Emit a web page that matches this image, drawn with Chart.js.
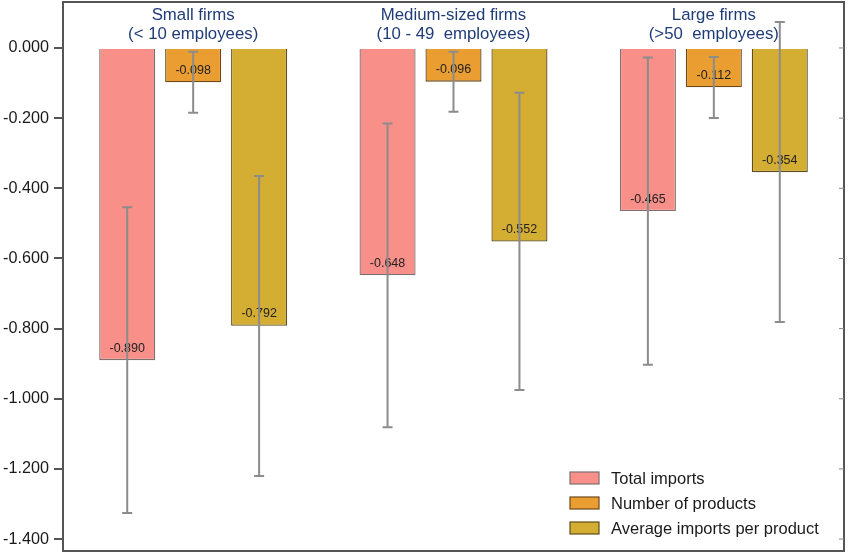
<!DOCTYPE html>
<html>
<head>
<meta charset="utf-8">
<script src="https://cdn.jsdelivr.net/npm/chart.js@4/dist/chart.umd.min.js"></script>
<style>
    html, body { margin: 0; padding: 0; background: #fff; }
    #wrap { width: 848px; height: 553px; }
</style>
</head>
<body>
<div id="wrap"><canvas id="importsChart" width="848" height="553"></canvas></div>
<script>
// group headings (two lines each)
const categories = [
    ['Small firms', '(< 10 employees)'],
    ['Medium-sized firms', '(10 - 49  employees)'],
    ['Large firms', '(>50  employees)'],
];
const seriesNames = ['Total imports', 'Number of products', 'Average imports per product'];

const totalImports = [-0.890, -0.648, -0.465];
const numProducts = [-0.098, -0.096, -0.112];
const avgImports = [-0.792, -0.552, -0.354];

// confidence intervals (low / high)
const totalLow = [-1.326, -1.081, -0.903];
const totalHigh = [-0.454, -0.215, -0.027];
const prodLow = [-0.185, -0.182, -0.200];
const prodHigh = [-0.011, -0.011, -0.026];
const avgLow = [-1.220, -0.975, -0.781];
const avgHigh = [-0.365, -0.128, 0.074];

const yTicks = [0, -0.2, -0.4, -0.6, -0.8, -1.0, -1.2, -1.4];

const FONT = '"Liberation Sans", Arial, sans-serif';

const errorBars = [
    { low: totalLow, high: totalHigh },
    { low: prodLow, high: prodHigh },
    { low: avgLow, high: avgHigh },
];

// labels, error bars, headings, frame and legend
const overlayPlugin = {
    id: 'overlay',
    afterDatasetsDraw(chart) {
        const ctx = chart.ctx;
        const area = chart.chartArea;
        const yScale = chart.scales.y;
        const xScale = chart.scales.x;

        ctx.save();
        // value labels near bar end
        ctx.font = '12.5px ' + FONT;
        ctx.fillStyle = '#222';
        ctx.textAlign = 'center';
        ctx.textBaseline = 'middle';
        chart.data.datasets.forEach((ds, i) => {
            const meta = chart.getDatasetMeta(i);
            meta.data.forEach((bar, j) => {
                ctx.fillText(ds.data[j].toFixed(3), bar.x, bar.y - 12);
            });
        });

        // error bars
        ctx.strokeStyle = '#8c8c8c';
        ctx.lineWidth = 2;
        errorBars.forEach((eb, i) => {
            const meta = chart.getDatasetMeta(i);
            meta.data.forEach((bar, j) => {
                const yLo = yScale.getPixelForValue(eb.low[j]);
                const yHi = yScale.getPixelForValue(eb.high[j]);
                ctx.beginPath();
                ctx.moveTo(bar.x, yHi);
                ctx.lineTo(bar.x, yLo);
                ctx.moveTo(bar.x - 5, yHi);
                ctx.lineTo(bar.x + 5, yHi);
                ctx.moveTo(bar.x - 5, yLo);
                ctx.lineTo(bar.x + 5, yLo);
                ctx.stroke();
            });
        });

        // group headings
        ctx.font = '16.8px ' + FONT;
        ctx.fillStyle = '#1f3c78';
        categories.forEach((lines, j) => {
            const cx = xScale.getPixelForValue(j);
            ctx.fillText(lines[0], cx, 15);
            ctx.fillText(lines[1], cx, 34);
        });

        // frame
        ctx.strokeStyle = '#555';
        ctx.lineWidth = 2;
        ctx.strokeRect(area.left, area.top, area.right - area.left, area.bottom - area.top);
        // inward ticks on the right side
        ctx.lineWidth = 1;
        ctx.strokeStyle = '#888';
        yTicks.forEach((v) => {
            const py = yScale.getPixelForValue(v);
            ctx.beginPath();
            ctx.moveTo(area.right - 5, py);
            ctx.lineTo(area.right, py);
            ctx.stroke();
        });

        // legend inside bottom right
        ctx.font = '16.5px ' + FONT;
        ctx.textAlign = 'left';
        chart.data.datasets.forEach((ds, i) => {
            const ly = 478 + i * 25;
            ctx.fillStyle = ds.backgroundColor;
            ctx.fillRect(570, ly - 6, 29, 12);
            ctx.strokeStyle = ds.borderColor;
            ctx.lineWidth = 1.2;
            ctx.strokeRect(570, ly - 6, 29, 12);
            ctx.fillStyle = '#1a1a1a';
            ctx.fillText(ds.label, 611, ly + 1);
        });
        ctx.restore();
    },
};

new Chart(document.getElementById('importsChart'), {
    type: 'bar',
    data: {
        labels: categories.map((c) => c.join(' ')),
        datasets: [
            {
                label: seriesNames[0],
                data: totalImports,
                backgroundColor: '#f98f89',
                borderColor: '#7d7070',
                borderWidth: 1.3,
            },
            {
                label: seriesNames[1],
                data: numProducts,
                backgroundColor: '#ea9e31',
                borderColor: '#6a4a1c',
                borderWidth: 1.3,
            },
            {
                label: seriesNames[2],
                data: avgImports,
                backgroundColor: '#d4ad33',
                borderColor: '#5e4e1e',
                borderWidth: 1.3,
            },
        ],
    },
    options: {
        responsive: false,
        animation: false,
        events: [],
        layout: { padding: { top: 2, bottom: 2, right: 4, left: 0 } },
        datasets: {
            bar: { categoryPercentage: 0.76, barPercentage: 0.85 },
        },
        scales: {
            x: { display: false },
            y: {
                min: -1.434,
                max: 0.131,
                afterBuildTicks: (scale) => {
                    scale.ticks = yTicks.map((v) => ({ value: v }));
                },
                afterFit: (scale) => {
                    scale.width = 63;
                    scale.paddingTop = 0;
                    scale.paddingBottom = 0;
                },
                border: { display: false },
                grid: {
                    drawOnChartArea: false,
                    drawTicks: true,
                    tickLength: 9,
                    color: '#555',
                    lineWidth: 2,
                },
                ticks: {
                    padding: 5,
                    color: '#1a1a1a',
                    font: { family: FONT, size: 16.2 },
                    callback: (v) => Number(v).toFixed(3),
                },
            },
        },
        plugins: {
            legend: { display: false },
            tooltip: { enabled: false },
        },
    },
    plugins: [overlayPlugin],
});
</script>
</body>
</html>
